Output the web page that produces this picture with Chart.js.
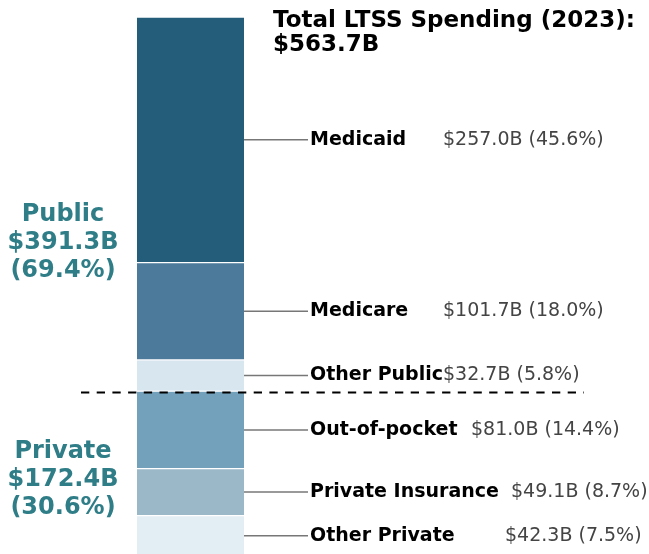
<!DOCTYPE html>
<html>
<head>
<meta charset="utf-8">
<script src="https://cdn.jsdelivr.net/npm/chart.js@4/dist/chart.umd.min.js"></script>
<style>
  html, body { margin: 0; padding: 0; background: #ffffff; }
  #wrap { width: 649px; height: 554px; position: relative; }
</style>
</head>
<body>
<div id="wrap"><canvas id="c" width="649" height="554"></canvas></div>
<script>
// ---- data ----
const categories = ["Medicaid", "Medicare", "Other Public", "Out-of-pocket", "Private Insurance", "Other Private"];
const values = [257.0, 101.7, 32.7, 81.0, 49.1, 42.3];
const percents = [45.6, 18.0, 5.8, 14.4, 8.7, 7.5];
const groupNames = ["Public", "Private"];
const groupValues = [391.3, 172.4];
const groupPercents = [69.4, 30.6];
const totalValue = 563.7;
const titleYear = "2023";

// ---- styles ----
const colors = ["#245D7A", "#4B7A9B", "#D8E6EF", "#73A1BB", "#9BB8C9", "#E3EDF4"];
const valueX = [443, 443, 443, 471, 511, 505];
const FONT = '"DejaVu Sans", sans-serif';

const datasets = categories.map((name, i) => ({
  label: name,
  data: [values[i]],
  backgroundColor: colors[i],
  borderColor: "#ffffff",
  borderWidth: { top: 1, bottom: 1, left: 0, right: 0 },
  borderSkipped: false,
  barPercentage: 1,
  categoryPercentage: 1
}));

const annotate = {
  id: "annotate",
  afterDatasetsDraw(chart) {
    const ctx = chart.ctx;
    const y = chart.scales.y;
    const area = chart.chartArea;
    ctx.save();
    let cum = 0;
    categories.forEach((name, i) => {
      const mid = y.getPixelForValue(cum + values[i] / 2);
      cum += values[i];
      ctx.strokeStyle = "#777777";
      ctx.lineWidth = 1.5;
      ctx.beginPath();
      ctx.moveTo(area.right, mid);
      ctx.lineTo(308, mid);
      ctx.stroke();
      ctx.textBaseline = "middle";
      ctx.textAlign = "left";
      ctx.fillStyle = "#000000";
      ctx.font = "bold 19px " + FONT;
      ctx.fillText(name, 310, mid);
      ctx.fillStyle = "#444444";
      ctx.font = "19px " + FONT;
      ctx.fillText("$" + values[i].toFixed(1) + "B (" + percents[i].toFixed(1) + "%)", valueX[i], mid);
    });
    const divY = y.getPixelForValue(groupValues[0]) + 1.5;
    ctx.strokeStyle = "#000000";
    ctx.lineWidth = 2;
    ctx.setLineDash([8.3, 7.4]);
    ctx.beginPath();
    ctx.moveTo(81, divY);
    ctx.lineTo(584, divY);
    ctx.stroke();
    ctx.setLineDash([]);
    ctx.fillStyle = "#2E7D87";
    ctx.font = "bold 24px " + FONT;
    ctx.textAlign = "center";
    ctx.textBaseline = "middle";
    const groupCenters = [243, 480];
    groupNames.forEach((g, i) => {
      const cy = groupCenters[i];
      ctx.fillText(g, 63, cy - 28);
      ctx.fillText("$" + groupValues[i].toFixed(1) + "B", 63, cy);
      ctx.fillText("(" + groupPercents[i].toFixed(1) + "%)", 63, cy + 28);
    });
    ctx.fillStyle = "#000000";
    ctx.font = "bold 23px " + FONT;
    ctx.textAlign = "left";
    ctx.textBaseline = "alphabetic";
    ctx.fillText("Total LTSS Spending (" + titleYear + "):", 273, 27);
    ctx.fillText("$" + totalValue.toFixed(1) + "B", 273, 51);
    ctx.restore();
  }
};

new Chart(document.getElementById("c"), {
  type: "bar",
  data: { labels: [""], datasets },
  options: {
    responsive: false,
    animation: false,
    layout: { padding: { left: 137, right: 405, top: 17, bottom: 0 } },
    plugins: { legend: { display: false }, tooltip: { enabled: false }, title: { display: false } },
    scales: {
      x: { stacked: true, display: false },
      y: { stacked: true, display: false, reverse: true, min: 0, max: 561.7 }
    }
  },
  plugins: [annotate]
});
</script>
</body>
</html>
